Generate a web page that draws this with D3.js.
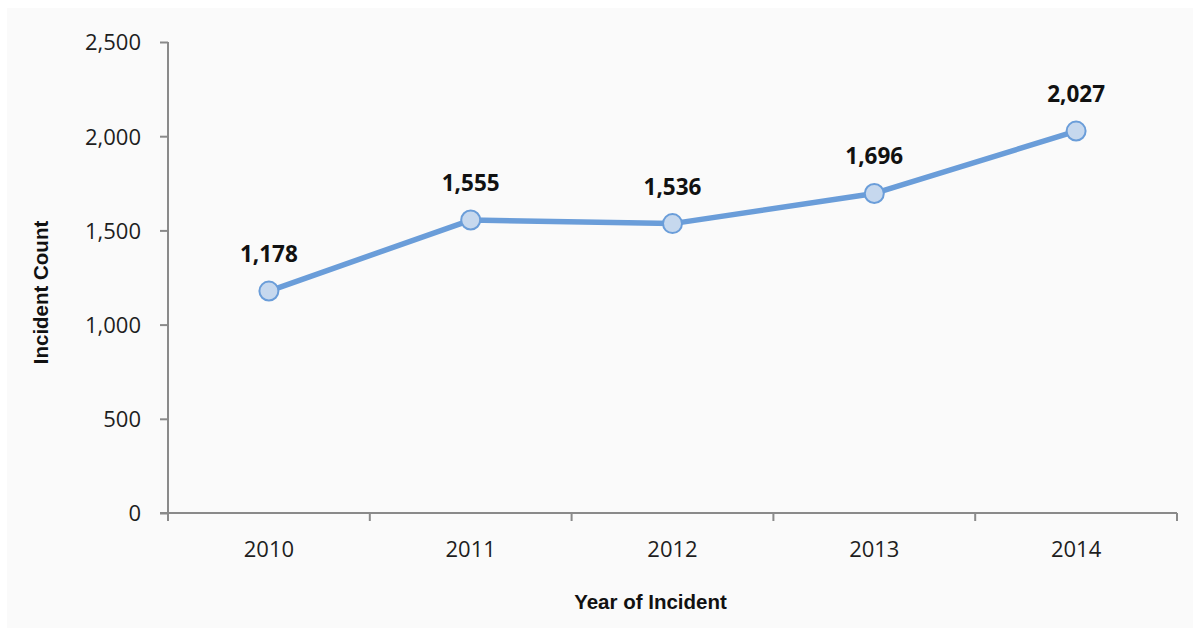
<!DOCTYPE html>
<html>
<head>
<meta charset="utf-8">
<script src="https://cdn.jsdelivr.net/npm/d3@7"></script>
<style>
  html, body { margin: 0; padding: 0; background: #ffffff; }
  svg { display: block; }
</style>
</head>
<body>
<svg id="chart" width="1200" height="630"></svg>
<script>
// Yearly incident counts
const years = ["2010", "2011", "2012", "2013", "2014"];
const counts = [1178, 1555, 1536, 1696, 2027];
const yTicks = [0, 500, 1000, 1500, 2000, 2500];

const svg = d3.select("#chart");
const W = 1200, H = 630;
const margin = { left: 168, right: 23, top: 42, bottom: 117 };

// light panel behind the chart
svg.append("rect")
  .attr("x", 7).attr("y", 8)
  .attr("width", W - 14).attr("height", H - 10)
  .attr("fill", "#fafafa");

const x = d3.scaleBand()
  .domain(years)
  .range([margin.left, W - margin.right])
  .paddingInner(0).paddingOuter(0);

const y = d3.scaleLinear()
  .domain([0, 2500])
  .range([H - margin.bottom, margin.top]);

const axisColor = "#8a8a8a";
const tickFont = "'Open Sans', sans-serif";
const titleFont = "'Liberation Sans', Arial, sans-serif";

// y axis
const yAxis = svg.append("g")
  .attr("transform", `translate(${margin.left},0)`)
  .call(d3.axisLeft(y).tickValues(yTicks).tickFormat(d3.format(",")).tickSize(8).tickPadding(19));
yAxis.select(".domain").attr("stroke", axisColor).attr("stroke-width", 2).attr("d",
  `M0,${y(2500)}V${y(0)}`);
yAxis.selectAll(".tick line").attr("stroke", axisColor).attr("stroke-width", 2);
yAxis.selectAll(".tick text")
  .attr("font-family", tickFont).attr("font-size", 22).attr("fill", "#1e1e1e")
  .attr("dy", "0.36em");

// x axis: tick marks sit on category boundaries, labels in the middle
const xAxisG = svg.append("g")
  .attr("transform", `translate(0,${y(0)})`);
xAxisG.append("line")
  .attr("x1", x.range()[0] - 8).attr("x2", x.range()[1])
  .attr("stroke", axisColor).attr("stroke-width", 2);
const boundaries = years.map(d => x(d)).concat([x(years[years.length - 1]) + x.bandwidth()]);
xAxisG.selectAll("line.bnd")
  .data(boundaries)
  .join("line")
  .attr("class", "bnd")
  .attr("x1", d => d).attr("x2", d => d)
  .attr("y1", 0).attr("y2", 8)
  .attr("stroke", axisColor).attr("stroke-width", 2);
xAxisG.selectAll("text.lbl")
  .data(years)
  .join("text")
  .attr("class", "lbl")
  .attr("x", d => x(d) + x.bandwidth() / 2)
  .attr("y", 44)
  .attr("text-anchor", "middle")
  .attr("font-family", tickFont).attr("font-size", 22).attr("fill", "#1e1e1e")
  .text(d => d);

// axis titles
svg.append("text")
  .attr("transform", `translate(48,${(y(0) + y(2500)) / 2 + 15}) rotate(-90)`)
  .attr("text-anchor", "middle")
  .attr("font-family", titleFont)
  .attr("font-weight", "bold").attr("font-size", 20.5).attr("fill", "#111")
  .text("Incident Count");

svg.append("text")
  .attr("x", (x.range()[0] + x.range()[1]) / 2 - 22)
  .attr("y", 609)
  .attr("text-anchor", "middle")
  .attr("font-family", titleFont)
  .attr("font-weight", "bold").attr("font-size", 20.5).attr("fill", "#111")
  .text("Year of Incident");

// series line
const pts = years.map((d, i) => ({ year: d, value: counts[i] }));
const cx = d => x(d.year) + x.bandwidth() / 2;

svg.append("path")
  .datum(pts)
  .attr("fill", "none")
  .attr("stroke", "#6a9dd9")
  .attr("stroke-width", 5.5)
  .attr("stroke-linejoin", "round")
  .attr("d", d3.line().x(cx).y(d => y(d.value)));

svg.selectAll("circle.pt")
  .data(pts)
  .join("circle")
  .attr("class", "pt")
  .attr("cx", cx)
  .attr("cy", d => y(d.value))
  .attr("r", 9.5)
  .attr("fill", "#c6d8ee")
  .attr("stroke", "#6a9dd9")
  .attr("stroke-width", 2);

// value labels
svg.selectAll("text.val")
  .data(pts)
  .join("text")
  .attr("class", "val")
  .attr("x", cx)
  .attr("y", d => y(d.value) - 29)
  .attr("text-anchor", "middle")
  .attr("font-family", tickFont)
  .attr("font-weight", "bold").attr("font-size", 22.5).attr("fill", "#111")
  .text(d => d3.format(",")(d.value));
</script>
</body>
</html>
